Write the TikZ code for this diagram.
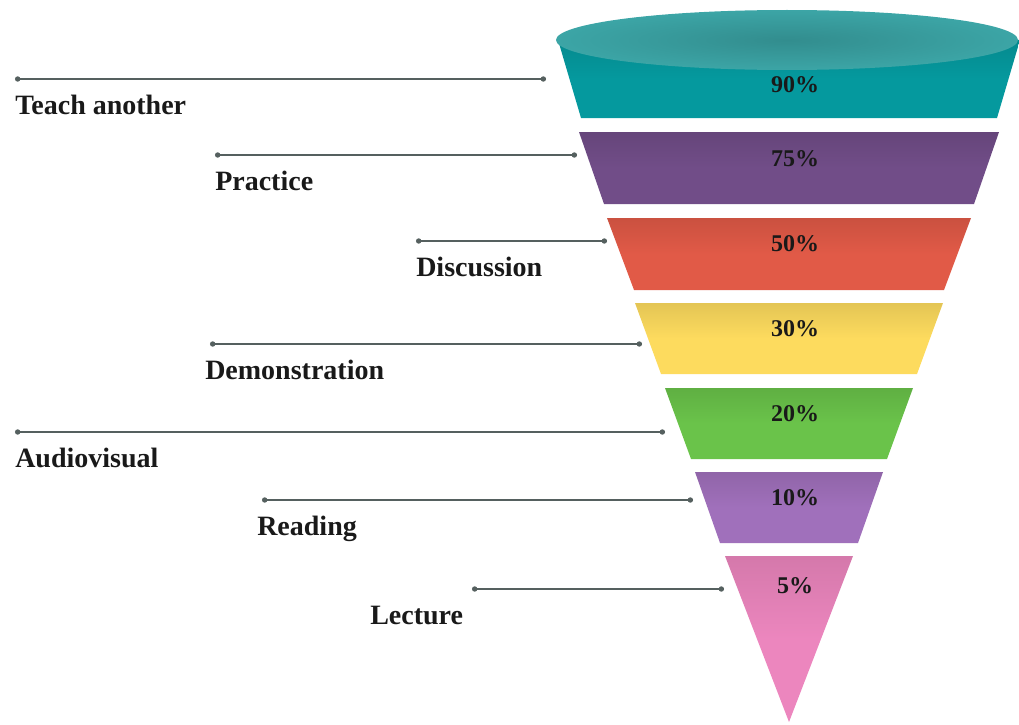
\documentclass[tikz,border=0pt]{standalone}
\usepackage{fontspec}
\setmainfont{Liberation Serif}
\usepackage{tikz}
\usetikzlibrary{arrows.meta}

\definecolor{bandteal}{HTML}{05999E}
\definecolor{lidedge}{HTML}{3CA5A6}
\definecolor{lidcentre}{HTML}{328D8E}
\definecolor{bandplum}{HTML}{714D88}
\definecolor{bandred}{HTML}{E15A47}
\definecolor{bandyellow}{HTML}{FDDB5E}
\definecolor{bandgreen}{HTML}{6AC34A}
\definecolor{bandlilac}{HTML}{A070BB}
\definecolor{bandpink}{HTML}{EC86BE}
\definecolor{leadergray}{HTML}{55605F}

\begin{document}
\begin{tikzpicture}[x=0.75pt, y=-0.75pt,
	pct/.style={font=\bfseries\fontsize{18}{20}\selectfont, text=black!90, inner sep=0pt},
	label/.style={font=\bfseries\fontsize{21}{24}\selectfont, text=black!90, anchor=base west, inner sep=0pt},
	leader/.style={draw=leadergray, line width=1pt, {Circle[length=4pt]}-{Circle[length=4pt]}}]

	\useasboundingbox (0,0) rectangle (1019,724);

	% funnel bands, axis at x=789
	\foreach \ya/\yb/\ta/\tb/\col/\yp/\val [count=\i] in {
			40/118/231/208/bandteal/85/90,
			132/204/210/185/bandplum/159/75,
			218/290/182/155/bandred/244/50,
			303/374/154/128/bandyellow/329/30,
			388/459/124/98/bandgreen/414/20,
			472/543/94/69/bandlilac/498/10,
			556/722/64/0/bandpink/586/5}
	{
		\shade[top color=\col!90!black, bottom color=\col, middle color=\col]
			(789-\ta,\ya) -- (789+\ta,\ya) -- (789+\tb,\yb) -- (789-\tb,\yb) -- cycle;
		\ifnum\i=1
			\shade[inner color=lidcentre, outer color=lidedge] (787,40) ellipse [x radius=231*0.75pt, y radius=30*0.75pt];
		\fi
		\node[pct] (p\i) at (795,\yp) {\val\%};
	}

	% leaders and labels
	\foreach \y/\xa/\xb/\xl/\txt [count=\i] in {
			79/15/546/15/Teach another,
			155/215/577/215/Practice,
			241/416/607/416/Discussion,
			344/210/642/205/Demonstration,
			432/15/665/15/Audiovisual,
			500/262/693/257/Reading,
			589/472/724/370/Lecture}
	{
		\coordinate (a\i) at (\xa,\y);
		\coordinate (b\i) at (\xb,\y);
		\draw[leader] (a\i) -- (b\i);
		\node[label] (l\i) at (\xl,\y+35) {\txt};
	}

\end{tikzpicture}
\end{document}
